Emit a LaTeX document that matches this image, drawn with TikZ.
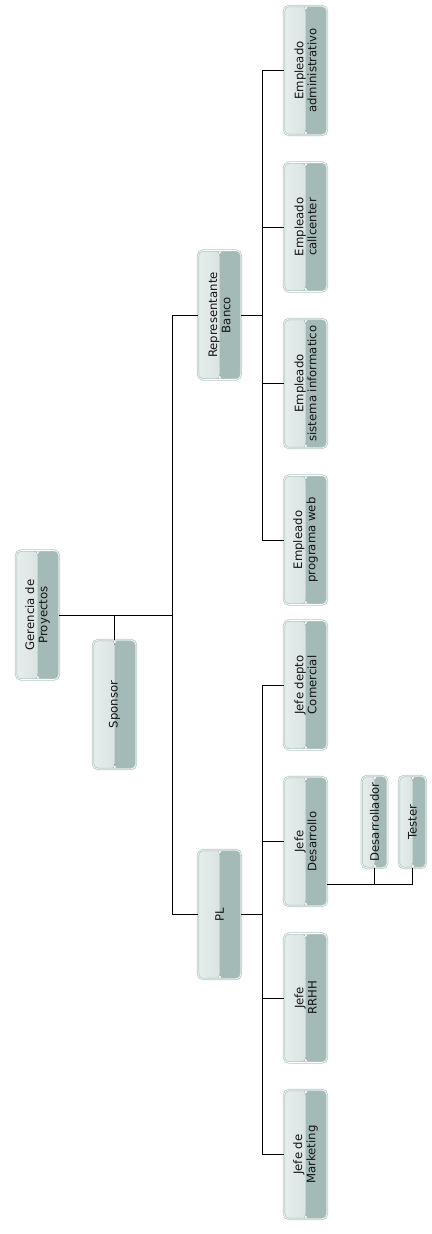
\documentclass[tikz,border=0pt]{standalone}
\usepackage{fontspec}
\setmainfont{DejaVu Sans}
\definecolor{boxA}{HTML}{E6EEEC}
\definecolor{boxB}{HTML}{CCDAD7}
\definecolor{boxC}{HTML}{A4BAB6}
\definecolor{boxedge}{HTML}{B4C8C4}
\definecolor{ink}{HTML}{141414}
\tikzset{
  orgbox/.style={rectangle, rounded corners=5bp, inner sep=0pt,
    minimum width=43bp, minimum height=129bp,
    draw=boxedge, line width=0.8bp, double=white, double distance=0.6bp,
    path picture={
      \fill[left color=boxA, right color=boxB]
        (path picture bounding box.south west) rectangle ([xshift=0.3bp]path picture bounding box.north);
      \fill[boxC]
        (path picture bounding box.south) rectangle (path picture bounding box.north east);
    }},
  smallbox/.style={orgbox, minimum width=25.5bp, minimum height=92bp},
  boxtext/.style={rotate=90, align=center, inner sep=0pt, text=ink,
    font=\fontsize{11.7bp}{13.2bp}\selectfont},
  link/.style={draw=black, line width=0.9bp}
}
\begin{document}
\begin{tikzpicture}[x=1bp, y=-1bp]
\useasboundingbox (0,0) rectangle (431,1234);

% top of the chart
\node[orgbox] (ger) at (37.5,615) {};
\node[boxtext] (ger-t) at (ger) {Gerencia de\\Proyectos};
\node[orgbox] (spo) at (114.5,704.5) {};
\node[boxtext] (spo-t) at (spo) {Sponsor};

% second level
\node[orgbox] (rep) at (219.5,315) {};
\node[boxtext] (rep-t) at (rep) {Representante\\Banco};
\node[orgbox] (pl) at (219.5,914.5) {};
\node[boxtext] (pl-t) at (pl) {PL};

% staff under Representante Banco
\node[orgbox] (adm) at (305.5,70.5) {};
\node[boxtext] (adm-t) at (adm) {Empleado\\administrativo};
\node[orgbox] (cal) at (305.5,227) {};
\node[boxtext] (cal-t) at (cal) {Empleado\\callcenter};
\node[orgbox] (inf) at (305.5,383.5) {};
\node[boxtext] (inf-t) at (inf) {Empleado\\sistema informatico};
\node[orgbox] (web) at (305.5,540) {};
\node[boxtext] (web-t) at (web) {Empleado\\programa web};

% heads under PL
\node[orgbox] (com) at (305.5,685) {};
\node[boxtext] (com-t) at (com) {Jefe depto\\Comercial};
\node[orgbox] (jdes) at (305.5,841.5) {};
\node[boxtext] (jdes-t) at (jdes) {Jefe\\Desarrollo};
\node[orgbox] (rrhh) at (305.5,998) {};
\node[boxtext] (rrhh-t) at (rrhh) {Jefe\\RRHH};
\node[orgbox] (mkt) at (305.5,1154.5) {};
\node[boxtext] (mkt-t) at (mkt) {Jefe de\\Marketing};

% development team
\node[smallbox] (des) at (374.5,822) {};
\node[boxtext] (des-t) at (des) {Desarrollador};
\node[smallbox, minimum width=27bp] (tes) at (412.5,822) {};
\node[boxtext] (tes-t) at (tes) {Tester};

% junctions
\coordinate (j1) at (172,615);
\coordinate (j2) at (262,315);
\coordinate (j3) at (262,914.5);
\coordinate (bus) at ([yshift=-42.5bp]jdes.east);

% connectors
\draw[link] (ger.east) -- (j1);
\draw[link] (spo.north) -- (spo.north |- ger.east);
\draw[link] (rep.west) -- (rep.west -| j1) -- (pl.west -| j1) -- (pl.west);
\draw[link] (rep.east) -- (j2);
\draw[link] (adm.west) -- (adm.west -| j2) -- (web.west -| j2) -- (web.west);
\draw[link] (cal.west) -- (cal.west -| j2);
\draw[link] (inf.west) -- (inf.west -| j2);
\draw[link] (pl.east) -- (j3);
\draw[link] (com.west) -- (com.west -| j3) -- (mkt.west -| j3) -- (mkt.west);
\draw[link] (jdes.west) -- (jdes.west -| j3);
\draw[link] (rrhh.west) -- (rrhh.west -| j3);
\draw[link] (bus) -- (bus -| tes.south) -- (tes.south);
\draw[link] (des.south) -- (des.south |- bus);
\end{tikzpicture}
\end{document}
